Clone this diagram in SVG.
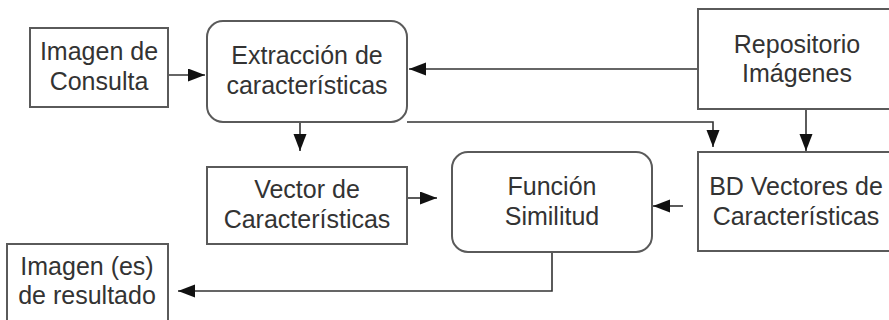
<svg xmlns="http://www.w3.org/2000/svg" width="889" height="320" viewBox="0 0 889 320">
<style>
.box{fill:#fff;stroke:#5a5a5a;stroke-width:2}
.lbl{font-family:"Liberation Sans",Arial,sans-serif;font-size:25px;fill:#333;text-anchor:middle}
.con{fill:none;stroke:#333;stroke-width:1.6}
</style>
<defs>
<marker id="arr" markerUnits="userSpaceOnUse" markerWidth="18" markerHeight="14" refX="17" refY="6.5" orient="auto">
<path d="M0,0 L17,6.5 L0,13 z" fill="#111"/>
</marker>
</defs>
<rect width="889" height="320" fill="#fff"/>
<g id="connectors">
<line class="con" x1="168" y1="75" x2="205" y2="75" marker-end="url(#arr)"/>
<line class="con" x1="698" y1="69" x2="409" y2="69" marker-end="url(#arr)"/>
<line class="con" x1="300" y1="122" x2="300" y2="151" marker-end="url(#arr)"/>
<polyline class="con" points="407,122 713,122 713,147" marker-end="url(#arr)"/>
<line class="con" x1="806" y1="109" x2="806" y2="151" marker-end="url(#arr)"/>
<line class="con" x1="407" y1="198" x2="437" y2="198" marker-end="url(#arr)"/>
<line class="con" x1="683" y1="206" x2="653" y2="206" marker-end="url(#arr)"/>
<polyline class="con" points="552,252 552,291 178,291" marker-end="url(#arr)"/>
</g>
<g id="imagen-consulta">
<rect class="box" x="30" y="28" width="138" height="79"/>
<text class="lbl" x="99" y="60">Imagen de</text>
<text class="lbl" x="99" y="90">Consulta</text>
</g>
<g id="extraccion">
<rect class="box" x="207" y="21" width="200" height="101" rx="16" ry="16"/>
<text class="lbl" x="307" y="64">Extracción de</text>
<text class="lbl" x="307" y="94">características</text>
</g>
<g id="repositorio">
<rect class="box" x="698" y="9" width="210" height="100"/>
<text class="lbl" x="797" y="53">Repositorio</text>
<text class="lbl" x="797" y="82">Imágenes</text>
</g>
<g id="vector">
<rect class="box" x="207" y="167" width="200" height="77"/>
<text class="lbl" x="307" y="198">Vector de</text>
<text class="lbl" x="307" y="228">Características</text>
</g>
<g id="funcion">
<rect class="box" x="452" y="152" width="200" height="100" rx="16" ry="16"/>
<text class="lbl" x="552" y="195">Función</text>
<text class="lbl" x="552" y="225">Similitud</text>
</g>
<g id="bd-vectores">
<rect class="box" x="698" y="152" width="210" height="99"/>
<text class="lbl" x="796" y="195">BD Vectores de</text>
<text class="lbl" x="796" y="225">Características</text>
</g>
<g id="imagen-resultado">
<rect class="box" x="7" y="244" width="161" height="90"/>
<text class="lbl" x="87" y="275">Imagen (es)</text>
<text class="lbl" x="87" y="304">de resultado</text>
</g>
</svg>
